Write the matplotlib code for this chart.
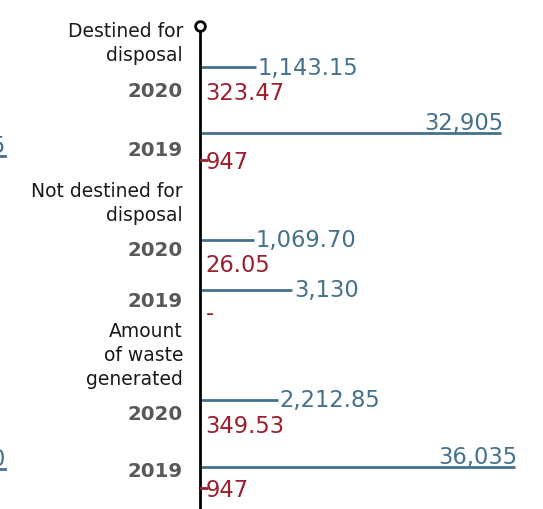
import numpy as np
import matplotlib
matplotlib.use("Agg")
import matplotlib.pyplot as plt

# ---------------- data ----------------
categories = [["Destined for", "disposal"],
              ["Not destined for", "disposal"],
              ["Amount", "of waste", "generated"]]
years = ["2020", "2019"]
blue_values = [1143.15, 32905, 1069.70, 3130, 2212.85, 36035]
blue_labels = ["1,143.15", "32,905", "1,069.70", "3,130", "2,212.85", "36,035"]
red_values = [323.47, 947, 26.05, 0, 349.53, 947]
red_labels = ["323.47", "947", "26.05", "-", "349.53", "947"]
edge_labels = ["5", "0"]

# ---------------- style / layout ----------------
BLUE = "#44718c"
RED = "#9c1f2e"
GREY = "#595959"
TXT = "#1a1a1a"
W, H = 543, 510
AX0 = 199.5

line_y = [68, 133.5, 241, 291, 401, 468]
red_base = [100, 169, 272, 320, 433, 497]
year_base = [97, 156, 256, 307, 420, 477]
cat_base = [37, 197, 337]
edge_base = [153, 466]

fig = plt.figure(figsize=(W / 100, H / 100), dpi=100)
ax = fig.add_axes([AX0 / W, 0, 1 - AX0 / W, 1])
ax.set_xscale("function", functions=(lambda x: np.sqrt(np.clip(x, 0, None)), lambda x: x ** 2))
ax.set_xlim(0, 42750)
ax.set_ylim(H, 0)
ax.axis("off")

# secondary (linear) scale for the small red values
ax2 = ax.twiny()
ax2.set_xlim(400, 22470)
ax2.set_ylim(H, 0)
ax2.axis("off")

def ftext(x, y, s, **kw):
    fig.text(x / W, 1 - y / H, s, **kw)

# vertical axis line with circle on top
ax.plot([0, 0], [26.7, 515], color="black", lw=2, clip_on=False, zorder=5)
ax.plot([0], [26.7], marker="o", ms=7, mfc="white", mec="black", mew=2,
        clip_on=False, zorder=6)

# category labels
for lines, b in zip(categories, cat_base):
    for i, s in enumerate(lines):
        ftext(183, b + 24 * i, s, ha="right", va="baseline", fontsize=13.5,
              color=TXT, family="DejaVu Sans")

# rows
for i in range(len(blue_values)):
    yr = years[i % 2]
    ftext(183, year_base[i], yr, ha="right", va="baseline", fontsize=14.2,
          fontweight="bold", color=GREY, family="DejaVu Sans")
    v = blue_values[i]
    ax.plot([0, v], [line_y[i], line_y[i]], color=BLUE, lw=2, solid_capstyle="butt",
            clip_on=False, zorder=3)
    if v > 10000:
        ax.annotate(blue_labels[i], (v, line_y[i] - 3.5), xytext=(3, 0),
                    textcoords="offset pixels", ha="right", va="baseline",
                    fontsize=16.3, color=BLUE, annotation_clip=False)
    else:
        ax.annotate(blue_labels[i], (v, line_y[i] + 6.5), xytext=(2, 0),
                    textcoords="offset pixels", ha="left", va="baseline",
                    fontsize=16.3, color=BLUE, annotation_clip=False)
    rv = red_values[i]
    ax2.plot([0, rv], [red_base[i] - 8, red_base[i] - 8], color=RED, lw=2,
             solid_capstyle="butt", clip_on=True, zorder=2)
    ax.annotate(red_labels[i], (0, red_base[i]), xytext=(6, 0),
                textcoords="offset pixels", ha="left", va="baseline",
                fontsize=16.3, color=RED, annotation_clip=False)

# clipped labels of a neighbouring panel at the left edge
for s, b in zip(edge_labels, edge_base):
    ftext(4.5, b, s, ha="right", va="baseline", fontsize=16.3, color=BLUE)
    fig.add_artist(plt.Line2D([0, 5 / W], [1 - (b + 4) / H, 1 - (b + 4) / H],
                              color=BLUE, lw=2, transform=fig.transFigure))

fig.savefig("out.png", dpi=100)
